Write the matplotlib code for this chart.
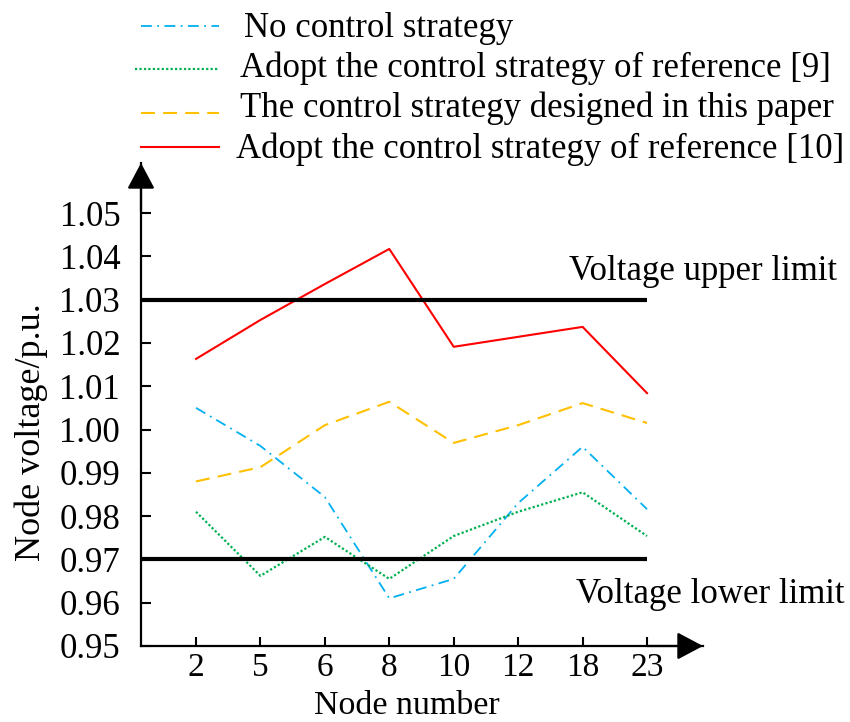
import matplotlib
matplotlib.use('Agg')
import matplotlib.pyplot as plt
from matplotlib.lines import Line2D

# Dados
nodes = ['2', '5', '6', '8', '10', '12', '18', '23']
no_control = [1.005, 0.9962, 0.9844, 0.961, 0.9655, 0.983, 0.996, 0.9816]
ref9 = [0.981, 0.9662, 0.9752, 0.9655, 0.9754, 0.981, 0.9855, 0.9754]
this_paper = [0.988, 0.9913, 1.001, 1.0064, 0.9969, 1.001, 1.0061, 1.0015]
ref10 = [1.0163, 1.0253, 1.0336, 1.0417, 1.0191, 1.0214, 1.0237, 1.0084]
upper_limit = 1.03
lower_limit = 0.97
yticks = [0.95, 0.96, 0.97, 0.98, 0.99, 1.00, 1.01, 1.02, 1.03, 1.04, 1.05]

labels = ['No control strategy',
          'Adopt the control strategy of reference [9]',
          'The control strategy designed in this paper',
          'Adopt the control strategy of reference [10]']

plt.rcParams['font.family'] = ['Liberation Serif', 'DejaVu Serif']

W, H = 850, 722
fig = plt.figure(figsize=(W / 100, H / 100), dpi=100)
ax = fig.add_axes([141 / W, 1 - 646 / H, (703 - 141) / W, (646 - 163) / H])

styles = [
    dict(color='#00B0F0', lw=1.3, ls=(0, (6, 3, 1, 3))),
    dict(color='#00B050', lw=1.6, ls=(0, (1, 1))),
    dict(color='#FFC000', lw=1.5, ls=(0, (6.7, 3.9))),
    dict(color='#FF0000', lw=1.5, ls='-'),
]
series = [no_control, ref9, this_paper, ref10]
x = list(range(len(nodes)))
for s, st in zip(series, styles):
    ax.plot(x, s, **st)

x0 = (141 - 196) / 64.43
x1 = (703 - 196) / 64.43
ax.hlines([upper_limit, lower_limit], x0, len(nodes) - 1, colors='black', lw=3)
ax.set_xlim(x0, x1)
ax.set_ylim(0.95, 0.95 + (646 - 163) / 4330)

ax.text((569 - 196) / 64.43, 1.0345, 'Voltage upper limit', fontsize=25, va='baseline')
ax.text((576 - 196) / 64.43, 0.9599, 'Voltage lower limit', fontsize=25, va='baseline')

ax.set_xticks(x)
ax.set_xticklabels(nodes)
ax.set_yticks(yticks)
ax.set_yticklabels(['%.2f' % v for v in yticks])
ax.tick_params(axis='y', direction='in', length=7, width=1.5, pad=15, labelsize=25)
ax.tick_params(axis='x', direction='in', length=6.5, width=1.5, pad=4.5, labelsize=24)

for side in ['top', 'right']:
    ax.spines[side].set_visible(False)
for side in ['left', 'bottom']:
    ax.spines[side].set_linewidth(1.6)

# setas nos eixos
arrow = dict(arrowstyle='-|>,head_length=1.6,head_width=0.85',
             color='black', lw=1.6, shrinkA=0, shrinkB=0)
ax.annotate('', xy=(1, 0), xytext=(0.9, 0), xycoords='axes fraction', arrowprops=arrow)
ax.annotate('', xy=(0, 1), xytext=(0, 0.9), xycoords='axes fraction', arrowprops=arrow)

fig.text(31 / W, 1 - 432 / H, 'Node voltage/p.u.', rotation=90, fontsize=26,
         ha='center', va='center')
fig.text(407 / W, 1 - 714 / H, 'Node number', fontsize=24.5, ha='center', va='baseline')

# legenda manual
leg_y = [26, 69, 113, 147]
leg_x0 = [141, 135, 141, 141]
leg_tx = [244, 240, 240, 236]
leg_base = [37, 77, 117, 158]
for i, st in enumerate(styles):
    fig.add_artist(Line2D([leg_x0[i] / W, 219 / W], [1 - leg_y[i] / H] * 2,
                          color=st['color'], lw=st['lw'], ls=st['ls']))
    fig.text(leg_tx[i] / W, 1 - leg_base[i] / H, labels[i], fontsize=25, va='baseline')

fig.savefig('out.png', dpi=100)
